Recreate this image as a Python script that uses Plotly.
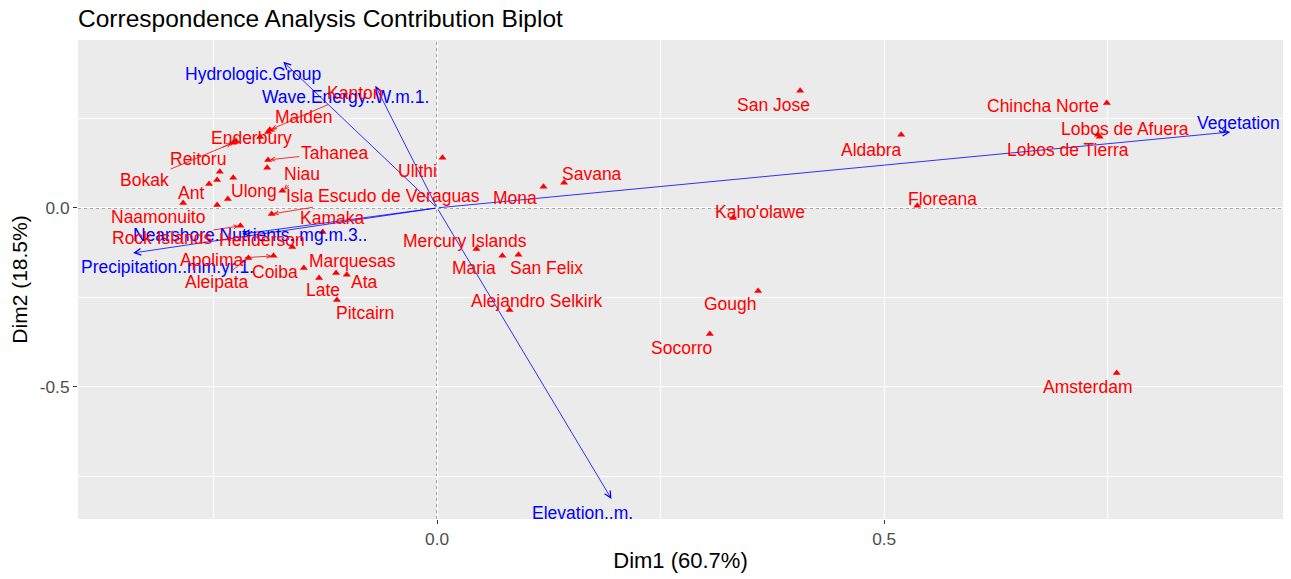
import plotly.graph_objects as go

# ---------------- data ----------------
row_names = ["Kanton", "Malden", "Enderbury", "Reitoru", "Bokak", "Tahanea", "",
             "Niau", "", "", "", "", "Ant", "Naamonuito", "Ulong",
             "Isla Escudo de Veraguas", "Rock Islands", "Henderson", "Kamaka",
             "Apolima", "Aleipata", "Coiba", "Marquesas", "Ata", "Late", "Pitcairn",
             "Ulithi", "Mona", "Savana", "Mercury Islands", "Maria", "San Felix",
             "Alejandro Selkirk", "San Jose", "Chincha Norte", "Lobos de Afuera",
             "Lobos de Tierra", "Aldabra", "Floreana", "Kaho'olawe", "Gough",
             "Socorro", "Amsterdam"]
row_dim1 = [-0.187, -0.189, -0.198, -0.225, -0.228, -0.189, -0.190,
            -0.173, -0.243, -0.228, -0.246, -0.255, -0.284, -0.246, -0.234,
            -0.185, -0.220, -0.162, -0.128,
            -0.183, -0.211, -0.149, -0.113, -0.101, -0.132, -0.112,
            0.006, 0.119, 0.142, 0.044, 0.073, 0.091,
            0.081, 0.406, 0.749, 0.739,
            0.741, 0.519, 0.537, 0.331, 0.359,
            0.305, 0.760]
row_dim2 = [0.218, 0.212, 0.198, 0.187, 0.182, 0.134, 0.112,
            0.048, 0.101, 0.084, 0.078, 0.067, 0.014, 0.008, 0.025,
            -0.017, -0.050, -0.109, -0.067,
            -0.134, -0.140, -0.168, -0.182, -0.187, -0.196, -0.257,
            0.140, 0.059, 0.070, -0.115, -0.134, -0.131,
            -0.285, 0.327, 0.293, 0.204,
            0.199, 0.204, 0.006, -0.028, -0.232,
            -0.352, -0.461]

col_names = ["Hydrologic.Group", "Wave.Energy..W.m.1.", "Vegetation",
             "Elevation..m.", "Precipitation..mm.yr.1.", "Nearshore.Nutrients..mg.m.3.."]
col_dim1 = [-0.172, -0.069, 0.887, 0.195, -0.340, -0.218]
col_dim2 = [0.408, 0.341, 0.212, -0.813, -0.126, -0.073]

title_text = "Correspondence Analysis Contribution Biplot"
x_title = "Dim1 (60.7%)"
y_title = "Dim2 (18.5%)"
x_tick_vals = [0.0, 0.5]
x_tick_text = ["0.0", "0.5"]
y_tick_vals = [0.0, -0.5]
y_tick_text = ["0.0", "-0.5"]

# ---------------- label layout (repelled label placement) ----------------
row_label_x = [-0.092, -0.149, -0.208, -0.267, -0.327, -0.115, None,
               -0.151, None, None, None, None, -0.275, -0.312, -0.205,
               -0.060, -0.308, -0.196, -0.117,
               -0.252, -0.246, -0.181, -0.095, -0.081, -0.128, -0.081,
               -0.022, 0.087, 0.173, 0.031, 0.041, 0.122,
               0.112, 0.376, 0.678, 0.769,
               0.706, 0.486, 0.565, 0.361, 0.328,
               0.273, 0.727]
row_label_y = [0.321, 0.254, 0.196, 0.137, 0.078, 0.154, None,
               0.095, None, None, None, None, 0.042, -0.025, 0.048,
               0.034, -0.084, -0.089, -0.028,
               -0.145, -0.207, -0.179, -0.148, -0.207, -0.229, -0.293,
               0.103, 0.028, 0.095, -0.092, -0.168, -0.168,
               -0.260, 0.288, 0.285, 0.221,
               0.162, 0.162, 0.025, -0.011, -0.268,
               -0.391, -0.500]
row_label_seg = ["Kanton", "Malden", "Reitoru", "Bokak", "Tahanea", "Niau",
                 "Isla Escudo de Veraguas", "Rock Islands", "Apolima", "Aleipata",
                 "Marquesas"]
col_label_x = [-0.206, -0.103, 0.896, 0.163, -0.301, -0.209]
col_label_y = [0.374, 0.310, 0.237, -0.852, -0.165, -0.075]

FONT = "Liberation Sans, Arial, sans-serif"
RED = "#FF0000"
BLUE = "#0000FF"
LABEL_SIZE = 17.5

# the page body adds an 8px offset; the figure is sized to fill the rest of the window
FIG_W, FIG_H = 1283, 571

fig = go.Figure()

fig.add_trace(go.Scatter(
    x=row_dim1, y=row_dim2, mode="markers",
    marker=dict(symbol="triangle-up", size=7, color=RED),
    hovertext=row_names, showlegend=False))

annotations = []
# variable arrows
for name, x, y, lx, ly in zip(col_names, col_dim1, col_dim2, col_label_x, col_label_y):
    annotations.append(dict(
        x=x, y=y, ax=0, ay=0, xref="x", yref="y", axref="x", ayref="y",
        text="", showarrow=True, arrowhead=5, arrowsize=1.6, arrowwidth=0.8,
        arrowcolor=BLUE, standoff=0, startstandoff=0))
    annotations.append(dict(
        x=lx, y=ly, xref="x", yref="y", text=name, showarrow=False,
        font=dict(family=FONT, size=LABEL_SIZE, color=BLUE)))

# row labels
for name, x, y, lx, ly in zip(row_names, row_dim1, row_dim2, row_label_x, row_label_y):
    if not name:
        continue
    if name in row_label_seg:
        annotations.append(dict(
            x=x, y=y, ax=lx, ay=ly, xref="x", yref="y", axref="x", ayref="y",
            text=name, showarrow=True, arrowhead=5, arrowsize=1.0, arrowwidth=0.8,
            arrowcolor=RED, standoff=2, startstandoff=0,
            font=dict(family=FONT, size=LABEL_SIZE, color=RED)))
    else:
        annotations.append(dict(
            x=lx, y=ly, xref="x", yref="y", text=name, showarrow=False,
            font=dict(family=FONT, size=LABEL_SIZE, color=RED)))

shapes = [
    dict(type="line", xref="x", yref="paper", x0=0, x1=0, y0=0, y1=1,
         line=dict(color="#222222", width=0.9, dash="3px,3px"), layer="below"),
    dict(type="line", xref="paper", yref="y", x0=0, x1=1, y0=0, y1=0,
         line=dict(color="#222222", width=0.9, dash="3px,3px"), layer="below"),
]

axis_common = dict(
    showgrid=True, gridcolor="white", gridwidth=1.2, zeroline=False,
    showline=False, ticks="outside", ticklen=4, tickcolor="#333333", tickwidth=1,
    tickmode="array", automargin=False,
    tickfont=dict(family=FONT, size=17.3, color="#4D4D4D"),
    minor=dict(tickmode="array", tickvals=[-0.75, -0.25, 0.25, 0.75],
               showgrid=True, gridcolor="white", gridwidth=0.5, ticks=""),
)

fig.update_layout(
    width=FIG_W, height=FIG_H,
    margin=dict(l=70, r=8, t=32, b=60, autoexpand=False),
    paper_bgcolor="white", plot_bgcolor="#EBEBEB",
    title=dict(text=title_text, x=70/FIG_W, xanchor="left", xref="container",
               y=1 - 10/FIG_H, yanchor="middle", yref="container",
               font=dict(family=FONT, size=24.5, color="black")),
    xaxis=dict(range=[-0.4016, 0.946], tickvals=x_tick_vals, ticktext=x_tick_text,
               title=dict(text=x_title, font=dict(family=FONT, size=22, color="black"), standoff=4),
               **axis_common),
    yaxis=dict(range=[-0.869, 0.469], tickvals=y_tick_vals, ticktext=y_tick_text,
               title=dict(text=y_title, font=dict(family=FONT, size=21, color="black"), standoff=6),
               **axis_common),
    annotations=annotations, shapes=shapes,
    showlegend=False,
)

fig.write_html("out.html")
